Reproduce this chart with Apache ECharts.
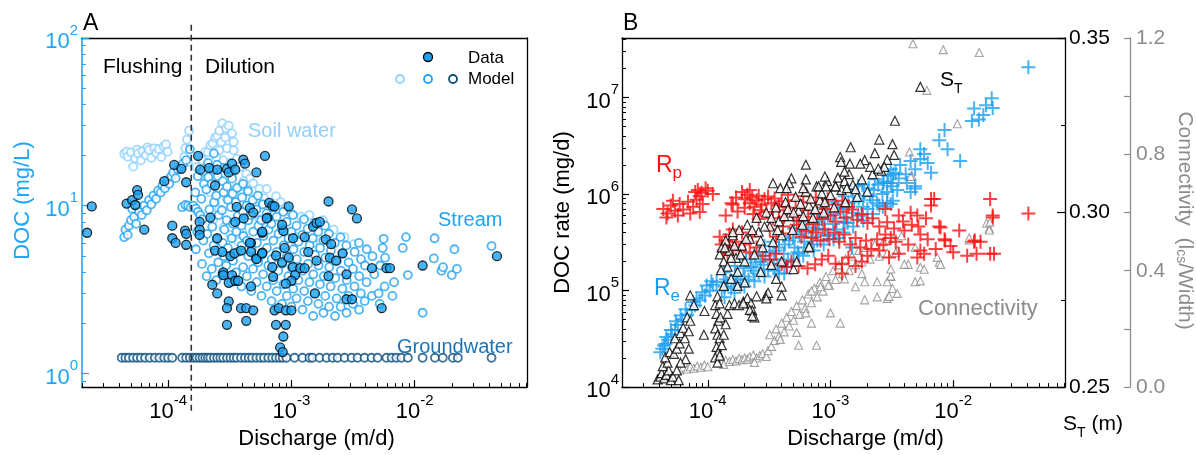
<!DOCTYPE html>
<html><head><meta charset="utf-8">
<script src="https://cdn.jsdelivr.net/npm/echarts@6/dist/echarts.min.js"></script>
<style>html,body{margin:0;padding:0;background:#fff}#c{width:1196px;height:455px}</style>
</head><body><div id="c"></div>
<script>
const FONT = 'Liberation Sans, Arial, sans-serif';

// ---------------- Panel A: DOC concentration vs discharge ----------------
const soilWaterModel = [
[4.4e-5,20.4],[4.6e-5,21.0],[4.7e-5,19.6],[5.0e-5,20.8],[5.2e-5,17.1],[5.4e-5,19.2],[5.6e-5,21.6],[5.7e-5,20.5],[6.0e-5,18.6],[6.2e-5,21.2],[6.6e-5,20.0],[6.8e-5,22.3],[7.0e-5,21.5],[7.3e-5,19.3],[7.7e-5,22.0],[8.0e-5,20.6],[8.4e-5,21.8],[8.8e-5,19.5],[9.2e-5,22.6],[9.6e-5,23.2],[9.9e-5,21.0],
[1.35e-4,19.5],[1.38e-4,22.0],[1.42e-4,24.8],[1.45e-4,18.2],[1.48e-4,28.0],
[1.7e-4,17.0],[1.8e-4,19.5],[1.9e-4,18.7],[2.0e-4,21.0],[2.1e-4,20.8],[2.2e-4,23.0],[2.3e-4,23.5],[2.4e-4,25.5],[2.5e-4,26.0],[2.6e-4,28.0],[2.75e-4,31.0],[2.95e-4,29.0],[3.1e-4,30.0],[3.3e-4,27.0],[3.4e-4,24.0],[2.6e-4,21.4],[2.8e-4,18.7],[3.0e-4,22.0],[3.4e-4,21.4],[3.6e-4,19.0],[3.3e-4,15.5],[3.8e-4,17.0],[4.3e-4,15.5],[4.6e-4,14.5],[4.9e-4,13.6],[5.5e-4,12.6],[6.3e-4,12.6],[6.0e-4,11.1],[7.5e-4,11.4],[8.2e-4,10.5],[9.0e-4,9.8],
[2.0e-4,14.0],[2.2e-4,12.0],[2.4e-4,10.5],[2.3e-4,8.2],[2.8e-4,7.4],[3.2e-4,6.7],[3.7e-4,6.1],[3.3e-4,8.0],[4.0e-4,7.0],[2.6e-4,9.5],[3.0e-4,11.0],[3.5e-4,12.5],[4.0e-4,11.8],[4.5e-4,10.0],[5.0e-4,9.0],[5.5e-4,8.2],[6.2e-4,7.4],
[2.15e-4,16.0],[2.45e-4,19.5],[2.7e-4,24.0],[2.9e-4,25.5],[3.2e-4,18.0],[3.5e-4,16.5],[4.1e-4,14.0],[4.4e-4,12.5],[5.2e-4,11.0],[5.8e-4,10.2],[6.7e-4,9.6],[7.2e-4,8.8],
[1.0e-3,9.0],[1.2e-3,8.6],[1.4e-3,8.8],[1.6e-3,7.8],[1.8e-3,8.2],[2.2e-3,7.2],[2.7e-3,6.5],[3.2e-3,5.9],[1.1e-3,6.5],[1.5e-3,6.0]
];
const streamModel = [
[4.4e-5,6.5],[4.5e-5,7.2],[4.7e-5,6.7],[4.8e-5,7.6],[5.0e-5,8.2],[5.1e-5,9.6],[5.3e-5,8.6],[5.5e-5,7.8],[5.6e-5,10.0],[5.8e-5,9.2],[6.1e-5,8.8],[6.4e-5,10.0],[6.7e-5,9.4],[7.0e-5,10.8],[7.3e-5,10.2],[7.6e-5,11.5],[8.0e-5,11.0],[8.3e-5,12.3],[8.7e-5,12.0],[9.0e-5,13.2],[9.4e-5,12.7],[9.8e-5,14.2],[1.02e-4,13.5],[1.06e-4,15.0],[1.1e-4,15.8],[1.15e-4,14.6],[1.2e-4,16.5],[1.26e-4,17.0],[1.32e-4,17.8],[1.4e-4,18.7],[1.5e-4,21.7],
[1.3e-4,9.8],[1.38e-4,10.1],[1.45e-4,10.0],[1.52e-4,9.8],[1.6e-4,10.0],[1.68e-4,9.6],[1.75e-4,9.2],[1.82e-4,8.8],[1.9e-4,8.3],
[1.68e-4,5.5],[1.72e-4,7.0],[1.66e-4,12.0],[1.74e-4,15.0],
[1.88e-4,4.5],[1.93e-4,6.2],[1.86e-4,11.0],[1.95e-4,13.5],[1.9e-4,16.0],
[2.05e-4,3.8],[2.14e-4,5.2],[2.08e-4,6.8],[2.16e-4,9.5],[2.04e-4,12.5],[2.12e-4,14.8],[2.1e-4,18.0],
[2.26e-4,4.2],[2.34e-4,5.8],[2.28e-4,7.5],[2.36e-4,10.5],[2.25e-4,13.5],[2.32e-4,16.5],[2.35e-4,20.5],
[2.46e-4,3.6],[2.55e-4,4.6],[2.48e-4,6.3],[2.57e-4,8.8],[2.45e-4,11.5],[2.53e-4,15.0],[2.5e-4,17.5],
[2.74e-4,3.9],[2.84e-4,5.0],[2.77e-4,6.0],[2.86e-4,7.2],[2.73e-4,9.4],[2.82e-4,12.0],[2.78e-4,14.0],[2.85e-4,16.8],
[2.96e-4,4.4],[3.05e-4,5.6],[2.98e-4,8.2],[3.06e-4,10.8],[3.0e-4,13.0],
[3.25e-4,3.5],[3.36e-4,4.7],[3.28e-4,6.4],[3.37e-4,7.8],[3.24e-4,9.8],[3.34e-4,11.8],[3.3e-4,14.5],
[3.55e-4,4.0],[3.66e-4,5.3],[3.58e-4,7.0],[3.67e-4,8.7],[3.54e-4,10.5],[3.63e-4,12.8],
[3.93e-4,3.3],[4.06e-4,4.3],[3.96e-4,5.8],[4.08e-4,6.6],[3.94e-4,7.6],[4.04e-4,9.2],[3.98e-4,11.2],[4.05e-4,13.5],
[4.34e-4,3.8],[4.47e-4,5.0],[4.36e-4,6.2],[4.48e-4,8.2],[4.33e-4,10.0],[4.45e-4,12.2],
[4.73e-4,3.1],[4.88e-4,4.2],[4.76e-4,5.5],[4.9e-4,7.0],[4.72e-4,8.8],[4.85e-4,10.8],
[5.22e-4,3.5],[5.38e-4,4.6],[5.25e-4,6.0],[5.4e-4,7.6],[5.2e-4,9.5],[5.35e-4,11.5],
[5.72e-4,2.9],[5.9e-4,3.9],[5.75e-4,5.1],[5.92e-4,6.6],[5.7e-4,8.2],[5.86e-4,10.2],
[6.3e-4,3.3],[6.5e-4,4.4],[6.33e-4,5.6],[6.52e-4,7.2],[6.28e-4,9.0],
[6.9e-4,2.7],[7.12e-4,3.6],[6.93e-4,4.8],[7.14e-4,6.2],[6.88e-4,7.8],[7.08e-4,9.8],
[7.6e-4,3.1],[7.82e-4,4.1],[7.63e-4,5.3],[7.85e-4,6.8],[7.58e-4,8.6],
[8.38e-4,2.6],[8.62e-4,3.4],[8.4e-4,4.5],[8.65e-4,5.8],[8.35e-4,7.3],[8.6e-4,9.2],
[9.17e-4,2.9],[9.45e-4,3.8],[9.2e-4,5.0],[9.46e-4,6.4],[9.15e-4,8.0],
[1.0e-3,2.5],[1.035e-3,3.2],[1.005e-3,4.3],[1.04e-3,5.5],[1.0e-3,7.0],[1.03e-3,8.8],
[1.1e-3,2.8],[1.14e-3,3.6],[1.105e-3,4.8],[1.14e-3,6.1],[1.1e-3,7.6],
[1.23e-3,2.4],[1.27e-3,3.1],[1.235e-3,4.1],[1.27e-3,5.3],[1.225e-3,6.7],[1.265e-3,8.3],
[1.36e-3,2.7],[1.4e-3,3.5],[1.365e-3,4.5],[1.405e-3,5.8],[1.355e-3,7.3],
[1.5e-3,2.2],[1.545e-3,3.0],[1.505e-3,3.9],[1.55e-3,5.1],[1.49e-3,6.4],[1.54e-3,7.9],
[1.655e-3,2.6],[1.705e-3,3.4],[1.66e-3,4.4],[1.71e-3,5.6],[1.65e-3,7.0],
[1.82e-3,2.3],[1.88e-3,2.9],[1.83e-3,3.8],[1.885e-3,4.9],[1.815e-3,6.2],[1.875e-3,7.6],
[2.02e-3,2.5],[2.08e-3,3.3],[2.025e-3,4.3],[2.09e-3,5.4],[2.015e-3,6.8],
[2.26e-3,2.2],[2.33e-3,2.8],[2.27e-3,3.7],[2.34e-3,4.7],[2.25e-3,6.0],
[2.51e-3,2.5],[2.59e-3,3.2],[2.52e-3,4.1],[2.6e-3,5.2],[2.5e-3,6.5],
[2.8e-3,2.3],[2.9e-3,2.9],[2.81e-3,3.6],[2.91e-3,4.6],[2.79e-3,5.8],
[3.15e-3,2.6],[3.25e-3,3.3],[3.16e-3,4.2],[3.26e-3,5.3],
[3.54e-3,2.4],[3.66e-3,3.0],[3.55e-3,3.8],[3.67e-3,4.8],[3.53e-3,6.0],
[3.93e-3,2.7],[4.07e-3,3.5],[3.95e-3,4.4],[4.08e-3,5.5],
[4.5e-3,2.9],[4.7e-3,3.9],[4.55e-3,5.0],
[5.2e-3,2.6],[5.1e-3,3.0],[5.25e-3,4.4],[5.5e-3,5.6],
[5.7e-3,3.3],[5.75e-3,4.9],[5.6e-3,6.35],
[6.6e-3,2.9],[6.8e-3,3.5],[8.0e-3,5.6],[8.5e-3,6.5],[8.8e-3,3.86],[1.16e-2,2.3],[1.43e-2,4.85],[1.45e-2,6.4],[1.65e-2,4.1],[1.7e-2,4.3],[2.0e-2,3.86],[2.1e-2,5.5],[2.2e-2,4.2],[4.2e-2,5.75]
];
const groundwaterLevel = 1.24;
const groundwaterX = [
4.2e-5,4.5e-5,4.8e-5,5.2e-5,5.6e-5,6.0e-5,6.5e-5,7.1e-5,7.8e-5,8.5e-5,9.3e-5,1.0e-4,1.08e-4,
1.3e-4,1.4e-4,1.5e-4,1.6e-4,1.7e-4,1.8e-4,1.9e-4,2.0e-4,2.1e-4,2.2e-4,2.35e-4,2.5e-4,2.65e-4,2.8e-4,3.0e-4,3.2e-4,3.4e-4,3.6e-4,3.9e-4,4.2e-4,4.5e-4,4.8e-4,5.2e-4,5.6e-4,6.0e-4,6.5e-4,7.0e-4,7.5e-4,8.0e-4,8.5e-4,
9.1e-4,1.06e-3,1.23e-3,1.4e-3,1.48e-3,1.69e-3,1.93e-3,2.16e-3,2.37e-3,2.7e-3,3.08e-3,3.44e-3,3.92e-3,4.47e-3,5.0e-3,5.9e-3,6.5e-3,7.1e-3,7.8e-3,8.8e-3,1.16e-2,1.46e-2,1.69e-2,2.04e-2,2.24e-2,4.2e-2
];
const observedData = [
[2.4e-5,9.9],[2.2e-5,6.9],[4.6e-5,10.3],[5.1e-5,10.8],[5.6e-5,12.4],[5.7e-5,11.6],[5.4e-5,10.1],[6.4e-5,7.2],[9.3e-5,14.0],[1.12e-4,17.5],[1.28e-4,16.6],[1.4e-4,13.8],[1.08e-4,7.6],[1.08e-4,6.4],[1.15e-4,6.0],[1.37e-4,7.1],[1.4e-4,6.8],[1.4e-4,5.85],
[1.75e-4,19.8],[1.82e-4,16.4],[2.15e-4,16.8],[2.5e-4,16.4],[3.0e-4,16.6],[3.3e-4,17.8],[3.1e-4,15.8],[3.5e-4,16.4],[4.07e-4,18.8],[4.2e-4,17.8],[5.2e-4,15.8],[6.1e-4,19.8],[2.4e-4,13.2],
[1.8e-4,8.0],[1.8e-4,7.2],[1.8e-4,6.7],[2.2e-4,8.5],[2.5e-4,6.4],[2.4e-4,5.4],[2.75e-4,5.3],[3.2e-4,5.0],[3.45e-4,5.2],[3.9e-4,5.4],[3.6e-4,9.85],[4.1e-4,8.4],[3.5e-4,8.0],[4.6e-4,9.7],[4.9e-4,9.1],[4.7e-4,6.0],[4.7e-4,5.3],[5.2e-4,4.85],[5.8e-4,6.9],[5.8e-4,5.25],[6.6e-4,10.4],[7.0e-4,10.0],[6.4e-4,8.5],[7.0e-4,4.3],[2.8e-4,4.0],
[2.28e-4,3.38],[2.5e-4,3.0],[2.8e-4,3.86],[3.3e-4,3.86],[3.1e-4,3.47],[3.5e-4,3.57],[3.7e-4,3.57],[3.1e-4,2.69],[3.0e-4,2.45],[3.0e-4,1.95],[3.9e-4,2.45],[4.3e-4,2.45],[4.9e-4,2.38],[4.3e-4,2.06],[4.7e-4,3.3],[4.6e-4,6.0],[5.2e-4,4.8],[5.8e-4,5.2],[6.3e-4,8.4],[5.8e-4,7.0],
[7.3e-4,9.9],[7.5e-4,5.05],[8.4e-4,4.6],[7.1e-4,3.77],[7.3e-4,2.38],[7.9e-4,2.45],[9.0e-4,2.38],[1.0e-3,2.38],[7.5e-4,1.95],[9.0e-4,1.95],[8.6e-4,1.66],[8.1e-4,1.43],[8.5e-4,1.34],[8.6e-4,7.07],[8.4e-4,7.7],[8.8e-4,5.6],[9.5e-4,9.9],[9.5e-4,4.9],
[1.03e-3,6.4],[1.03e-3,4.3],[1.07e-3,3.86],[1.0e-3,3.57],[1.18e-3,4.24],[1.28e-3,4.24],[1.28e-3,6.5],[1.37e-3,5.3],[1.55e-3,3.0],[1.6e-3,4.7],[1.5e-3,7.5],[1.6e-3,7.9],[1.7e-3,8.0],[2.0e-3,10.6],[1.9e-3,6.3],[2.1e-3,5.9],[2.05e-3,4.9],[2.3e-3,4.7],[2.6e-3,5.2],[2.0e-3,3.8],[2.8e-3,3.9],[2.8e-3,2.77],[3.1e-3,2.77],[3.1e-3,9.5],[3.4e-3,8.4],[4.5e-3,4.24],[5.9e-3,4.24],[6.3e-3,4.24],[1.16e-2,4.4],[4.65e-2,5.0],[5.4e-3,2.45],[9.0e-4,3.43]
];
const flushDilutionBoundary = 1.54e-4;
const boundaryLineExtent = [0.6, 124];

// ---------------- Panel B: DOC rates, storage and connectivity ----------------
const rateRe = [
[4.1e-5,2.3e4],[4.26e-5,2.5e4],[4.4e-5,2.7e4],[4.5e-5,2.8e4],[4.6e-5,3.3e4],[4.75e-5,3.1e4],[5.1e-5,3.5e4],[5.0e-5,3.9e4],[5.4e-5,3.9e4],[5.7e-5,4.4e4],[5.5e-5,4.8e4],[6.2e-5,5.0e4],[6.0e-5,5.5e4],[6.8e-5,5.6e4],[6.6e-5,6.4e4],[7.4e-5,6.3e4],[7.9e-5,7.0e4],[7.6e-5,7.6e4],[8.6e-5,7.9e4],[8.1e-5,8.3e4],[9.5e-5,8.9e4],[9.0e-5,9.6e4],[1.04e-4,1.0e5],[9.8e-5,1.13e5],[1.1e-4,1.15e5],[1.18e-4,1.23e5],[1.07e-4,1.25e5],
[1.37e-4,8.5e4],[1.37e-4,1.1e5],[1.4e-4,1.3e5],[1.35e-4,1.55e5],[1.65e-4,9.5e4],[1.62e-4,1.2e5],[1.7e-4,1.45e5],[1.66e-4,1.8e5],[1.99e-4,1.1e5],[2.0e-4,1.4e5],[1.95e-4,1.7e5],[2.05e-4,2.1e5],[2.4e-4,1.25e5],[2.35e-4,1.6e5],[2.45e-4,1.95e5],[2.4e-4,2.4e5],[2.9e-4,1.4e5],[2.85e-4,1.85e5],[2.95e-4,2.3e5],[2.9e-4,2.9e5],[3.5e-4,1.6e5],[3.45e-4,2.1e5],[3.55e-4,2.6e5],[3.4e-4,3.2e5],[4.2e-4,1.5e5],[4.15e-4,2.4e5],[4.25e-4,3.0e5],[4.1e-4,3.7e5],[5.0e-4,2.0e5],[5.1e-4,2.8e5],[4.95e-4,3.5e5],[5.05e-4,4.4e5],[6.0e-4,2.3e5],[6.1e-4,3.2e5],[6.05e-4,4.1e5],[5.9e-4,5.2e5],[7.3e-4,2.6e5],[7.2e-4,3.6e5],[7.4e-4,4.8e5],[7.3e-4,6.2e5],[8.8e-4,3.0e5],[8.7e-4,4.3e5],[8.9e-4,5.5e5],[8.6e-4,7.2e5],[1.06e-3,3.4e5],[1.05e-3,4.9e5],[1.07e-3,6.3e5],[1.04e-3,8.3e5],[1.27e-3,4.0e5],[1.28e-3,5.6e5],[1.26e-3,7.2e5],[1.3e-3,9.5e5],[1.53e-3,4.6e5],[1.52e-3,6.4e5],[1.55e-3,8.3e5],[1.5e-3,1.08e6],[1.85e-3,5.3e5],[1.84e-3,7.4e5],[1.87e-3,9.6e5],[1.82e-3,1.25e6],[2.22e-3,6.2e5],[2.2e-3,8.6e5],[2.25e-3,1.1e6],[2.3e-3,1.42e6],[2.67e-3,7.4e5],[2.65e-3,1.0e6],[2.7e-3,1.3e6],[3.22e-3,8.5e5],[3.2e-3,1.2e6],[3.25e-3,1.6e6],
[1.3e-4,1.0e5],[1.45e-4,1.2e5],[1.55e-4,1.05e5],[1.75e-4,1.3e5],[1.85e-4,1.15e5],[2.15e-4,1.3e5],[2.25e-4,1.75e5],[2.6e-4,1.5e5],[2.7e-4,2.0e5],[3.1e-4,1.65e5],[3.2e-4,2.5e5],[3.7e-4,1.85e5],[3.8e-4,2.8e5],[4.5e-4,2.1e5],[4.6e-4,3.3e5],[5.4e-4,2.5e5],[5.6e-4,3.8e5],[6.5e-4,2.8e5],[6.6e-4,4.5e5],[7.8e-4,3.3e5],[8.0e-4,5.2e5],[9.4e-4,3.7e5],[9.5e-4,6.0e5],[1.12e-3,4.3e5],[1.15e-3,7.0e5],[1.38e-3,5.0e5],[1.4e-3,8.0e5],[1.68e-3,6.0e5],[1.7e-3,9.0e5],[2.0e-3,7.0e5],[2.05e-3,1.15e6],[2.4e-3,8.0e5],[2.45e-3,1.25e6],[2.9e-3,1.05e6],[2.95e-3,1.55e6],[3.5e-3,1.1e6],[3.6e-3,1.45e6],[4.1e-3,1.6e6],[4.2e-3,1.3e6],
[1.68e-3,1.2e6],[3.4e-3,1.64e6],[2.9e-3,8.1e5],[2.5e-3,7.6e5],[1.8e-3,6.0e5],[1.3e-3,5.1e5],[9.6e-4,3.8e5],[7.0e-4,3.0e5],[7.9e-4,4.4e5],[1.17e-3,3.5e5],[1.5e-3,2.8e5],[4.9e-3,1.2e6],[4.5e-3,2.2e6],[5.8e-3,2.6e6],[3.7e-3,2.0e6],[2.9e-3,1.3e6],[2.1e-3,9.5e5],[5.5e-4,2.4e5],[4.4e-4,1.75e5],[3.8e-4,1.5e5],
[4.1e-2,2.05e7],[2.06e-2,9.8e6],[2.1e-2,7.8e6],[1.48e-2,7.7e6],[1.62e-2,5.9e6],[1.42e-2,5.7e6],[8.5e-3,4.6e6],[7.7e-3,3.6e6],[9.0e-3,2.9e6],[1.14e-2,2.2e6],[5.4e-3,2.9e6],[5.4e-3,2.3e6],[6.2e-3,2.1e6],[6.6e-3,1.66e6],[4.9e-3,1.8e6],[4.9e-3,1.14e6],[4.5e-3,1.05e6],[3.1e-3,1.8e6],[3.1e-3,1.3e6],[2.7e-3,1.35e6],[3.1e-3,7.9e5],[1.85e-2,8.3e6],[1.76e-2,6.6e6]
];
const rateRp = [
[4.34e-5,7.0e5],[4.7e-5,6.3e5],[5.0e-5,7.6e5],[5.4e-5,6.7e5],[5.7e-5,6.0e5],[5.9e-5,7.9e5],[6.3e-5,6.9e5],[6.9e-5,8.3e5],[7.2e-5,6.3e5],[7.6e-5,7.4e5],[8.1e-5,8.7e5],[8.6e-5,6.5e5],[9.1e-5,7.9e5],[4.6e-5,5.7e5],[5.2e-5,8.5e5],[7.9e-5,1.05e6],[8.3e-5,1.1e6],[8.9e-5,1.03e6],[9.6e-5,1.15e6],[1.0e-4,1.08e6],[1.1e-4,1.0e6],[8.6e-5,9.5e5],[1.4e-4,6.0e5],[1.56e-4,8.0e5],
[1.9e-4,1.05e6],[2.0e-4,8.8e5],[2.1e-4,9.8e5],[2.2e-4,8.0e5],[2.3e-4,9.2e5],[2.4e-4,7.4e5],[2.5e-4,8.6e5],[2.6e-4,9.6e5],[2.2e-4,1.1e6],[2.75e-4,7.8e5],[2.0e-4,7.2e5],[2.9e-4,8.8e5],[3.1e-4,9.4e5],[3.3e-4,8.0e5],[3.5e-4,9.0e5],[3.8e-4,7.6e5],[4.0e-4,8.4e5],
[1.25e-4,3.6e5],[1.3e-4,3.0e5],[1.35e-4,2.6e5],[1.4e-4,3.3e5],[1.45e-4,2.4e5],[1.5e-4,2.9e5],[1.6e-4,2.7e5],[1.7e-4,3.2e5],[1.8e-4,2.6e5],[2.0e-4,3.0e5],[2.2e-4,2.5e5],[2.5e-4,2.8e5],[2.8e-4,2.3e5],[3.2e-4,2.1e5],[3.6e-4,2.4e5],[4.0e-4,1.9e5],[4.4e-4,1.75e5],[4.8e-4,2.0e5],[5.5e-4,1.8e5],[6.5e-4,1.7e5],[7.5e-4,1.87e5],[8.5e-4,2.1e5],[9.6e-4,2.3e5],[1.1e-3,1.9e5],[1.24e-3,1.87e5],[1.24e-3,1.5e5],[1.4e-3,2.2e5],[1.6e-3,1.8e5],[1.8e-3,2.0e5],[2.0e-3,2.3e5],[2.5e-3,2.6e5],[3.6e-3,2.4e5],[2.8e-3,3.8e5],[3.4e-3,3.2e5],
[3.0e-4,6.5e5],[3.4e-4,5.6e5],[3.8e-4,6.8e5],[4.2e-4,5.8e5],[4.6e-4,7.2e5],[5.0e-4,6.2e5],[5.5e-4,5.3e5],[6.0e-4,6.8e5],[6.6e-4,5.8e5],[7.2e-4,4.9e5],[7.8e-4,6.4e5],[8.5e-4,5.5e5],[9.2e-4,7.0e5],[1.0e-3,6.0e5],[1.1e-3,5.2e5],[1.2e-3,6.6e5],[1.35e-3,5.7e5],[1.5e-3,6.9e5],[1.65e-3,5.4e5],[1.8e-3,6.2e5],[2.0e-3,5.0e5],[2.2e-3,5.6e5],[2.5e-3,4.6e5],[2.9e-3,5.1e5],[3.6e-3,6.0e5],[4.5e-3,6.4e5],[5.1e-3,6.0e5],[7.0e-3,8.9e5],[6.6e-3,7.6e5],[7.9e-3,4.5e5],[1.12e-2,4.2e5],[8.5e-3,3.4e5],[1.48e-2,3.2e5],[1.67e-2,3.2e5],[1.55e-2,2.4e5],[2.0e-2,2.4e5],[2.0e-2,8.9e5],[2.1e-2,6.0e5],[4.1e-2,6.3e5],[5.4e-3,3.8e5],[5.8e-3,2.4e5],[5.4e-3,2.6e5],[7.7e-3,4.6e5],[8.6e-3,3.3e5],[1.5e-2,3.3e5],[2.15e-2,2.4e5],[2.1e-2,5.7e5],[5.1e-3,2.2e5],[6.6e-3,8.9e5],[3.1e-3,3.5e5],[4.0e-3,4.2e5],[4.3e-3,3.0e5],[3.0e-3,2.2e5],
[3.2e-4,4.3e5],[3.6e-4,3.6e5],[4.1e-4,4.6e5],[4.7e-4,3.9e5],[5.3e-4,4.8e5],[5.8e-4,3.6e5],[6.3e-4,4.2e5],[7.0e-4,3.5e5],[7.6e-4,4.0e5],[8.3e-4,3.3e5],[9.0e-4,4.3e5],[9.8e-4,3.4e5],[1.08e-3,4.0e5],[1.18e-3,3.2e5],[1.3e-3,3.8e5],[1.45e-3,3.0e5],[1.6e-3,3.5e5],[1.75e-3,2.8e5],[1.95e-3,3.3e5],[2.15e-3,2.7e5],[2.4e-3,3.4e5],[2.7e-3,3.0e5],[3.3e-3,4.4e5],[3.9e-3,5.2e5],[4.6e-3,4.8e5],[5.2e-3,4.6e5],[6.0e-3,5.6e5],[6.2e-3,3.4e5],[7.2e-3,2.7e5],[9.5e-3,2.9e5],[1.0e-2,2.5e5],[1.3e-2,2.3e5],[2.35e-4,6.2e5],[2.6e-4,5.5e5],[2.7e-4,6.8e5],[1.6e-4,7.8e5],[1.7e-4,9.2e5],[1.75e-4,6.6e5],[1.5e-4,3.8e5],[1.6e-4,4.3e5],[1.9e-4,4.0e5],[2.3e-4,3.6e5],
[4.5e-4,9.8e5],[5.2e-4,8.6e5],[6.0e-4,9.5e5],[6.8e-4,8.2e5],[7.6e-4,9.2e5],[8.5e-4,8.0e5],[9.5e-4,8.8e5],[1.1e-3,7.8e5],[1.25e-3,8.5e5],[1.4e-3,7.4e5],[2.8e-3,7.0e5]
];
const storageST = [
[3.9e-5,0.2522],[4.1e-5,0.2530],[4.2e-5,0.2540],[4.4e-5,0.2525],[4.6e-5,0.2535],[4.8e-5,0.2548],[5.0e-5,0.2520],[5.2e-5,0.2530],[4.3e-5,0.2560],[4.7e-5,0.2570],[4.5e-5,0.2585],[4.9e-5,0.2600],[5.3e-5,0.2595],[5.6e-5,0.2610],[5.9e-5,0.2625],[5.4e-5,0.2640],[6.0e-5,0.2655],[6.3e-5,0.2670],[6.5e-5,0.2640],[6.8e-5,0.2700],[7.2e-5,0.2690],[7.0e-5,0.2660],[7.7e-5,0.2735],[7.2e-5,0.2763],[6.6e-5,0.2580],[7.0e-5,0.2610],[6.0e-5,0.2570],[5.6e-5,0.2548],[9.3e-5,0.2650],[5.8e-5,0.2520],[9.4e-5,0.2718],
[1.15e-4,0.2735],[1.2e-4,0.2760],[1.25e-4,0.2740],[1.18e-4,0.2710],[1.22e-4,0.2690],[1.27e-4,0.2700],[1.15e-4,0.2668],[1.2e-4,0.2650],[1.25e-4,0.2640],[1.18e-4,0.2615],[1.22e-4,0.2600],[1.15e-4,0.2585],[1.2e-4,0.2570],[1.25e-4,0.2590],[1.3e-4,0.2620],[1.35e-4,0.2650],[1.4e-4,0.2680],[1.45e-4,0.2710],[1.5e-4,0.2735],[1.65e-4,0.2740],[1.8e-4,0.2735],[1.95e-4,0.2745],[2.1e-4,0.2755],[2.25e-4,0.2740],[2.5e-4,0.2760],[2.3e-4,0.2720],[2.4e-4,0.2700],[3.0e-4,0.2763],[3.1e-4,0.2770],
[1.25e-4,0.2880],[1.3e-4,0.2900],[1.35e-4,0.2860],[1.4e-4,0.2920],[1.45e-4,0.2845],[1.5e-4,0.2890],[1.6e-4,0.2935],[1.7e-4,0.2870],[1.8e-4,0.2950],[1.9e-4,0.2905],[2.0e-4,0.2860],[2.1e-4,0.2965],[2.2e-4,0.2925],[2.4e-4,0.2880],[2.5e-4,0.2985],[2.6e-4,0.2945],[2.8e-4,0.2900],[3.0e-4,0.3000],[3.2e-4,0.2960],[3.4e-4,0.2915],[3.6e-4,0.3015],[3.8e-4,0.2975],[4.0e-4,0.2935],[4.3e-4,0.3030],[4.6e-4,0.2990],[4.9e-4,0.2950],[5.2e-4,0.3045],[5.5e-4,0.3005],[5.9e-4,0.2965],[6.3e-4,0.3060],[6.7e-4,0.3020],[7.2e-4,0.2985],[7.7e-4,0.3075],[8.2e-4,0.3035],[8.8e-4,0.3000],[9.4e-4,0.3090],[1.0e-3,0.3050],[1.07e-3,0.3015],[1.15e-3,0.3100],[1.23e-3,0.3065],[1.32e-3,0.3030],[1.42e-3,0.3110],[1.52e-3,0.3080],[1.65e-3,0.3045],[1.8e-3,0.3095],[2.0e-3,0.3060],
[1.28e-4,0.2835],[1.38e-4,0.2900],[1.55e-4,0.2870],[1.65e-4,0.2905],[1.75e-4,0.2830],[1.85e-4,0.2880],[2.05e-4,0.2925],[2.3e-4,0.2950],[2.7e-4,0.2920],[2.9e-4,0.2960],[3.3e-4,0.2985],[3.7e-4,0.2950],[4.2e-4,0.2990],[4.5e-4,0.3010],[5.0e-4,0.3000],[5.7e-4,0.3025],[6.0e-4,0.2990],[6.9e-4,0.3040],[7.5e-4,0.3010],[8.5e-4,0.3055],[9.0e-4,0.3030],[1.1e-3,0.3075],[1.3e-3,0.3090],[2.2e-3,0.3110],[2.6e-3,0.3120],[1.9e-3,0.3150],[2.3e-3,0.3170],[1.35e-4,0.2790],[1.55e-4,0.2810],[1.75e-4,0.2790],[2.0e-4,0.2800],[2.7e-4,0.2830],[3.3e-4,0.2850],[3.6e-4,0.2810],
[6.3e-4,0.3137],[9.0e-4,0.3103],[1.2e-3,0.3159],[1.22e-3,0.3145],[1.46e-3,0.3187],[1.75e-3,0.3140],[1.3e-3,0.3117],[2.5e-3,0.3209],[3.2e-3,0.3196],[3.35e-3,0.3263],[6.3e-4,0.3095],[4.8e-4,0.3098],[4.6e-4,0.3084],[3.4e-4,0.3084],[3.9e-4,0.3070],[5.4e-3,0.3360],[2.9e-3,0.3151],[2.75e-3,0.3131],[3.3e-3,0.3165],[1.44e-3,0.3140],[2.1e-3,0.3131],[2.45e-3,0.3126],[4.4e-4,0.3070],[6.0e-4,0.3070],[8.0e-4,0.3075],[9.2e-4,0.3075],[1.1e-3,0.3075],[1.36e-3,0.3070],[1.6e-3,0.3067],
[4.0e-4,0.2788],[5.0e-4,0.2838],[6.7e-4,0.2900],[1.95e-4,0.2740],[2.2e-4,0.2721],[2.3e-4,0.2704],[3.0e-4,0.2754],[4.0e-4,0.2763],[6.7e-4,0.2902],[4.0e-4,0.2860],[5.3e-4,0.2860],[1.6e-4,0.2944]
];
const connectivity = [
[5.9e-5,0.060],[6.3e-5,0.068],[6.8e-5,0.062],[7.2e-5,0.070],[7.7e-5,0.065],[8.2e-5,0.072],[8.8e-5,0.068],[9.4e-5,0.075],[1.0e-4,0.070],
[1.3e-4,0.085],[1.4e-4,0.092],[1.5e-4,0.088],[1.6e-4,0.095],[1.7e-4,0.090],[1.8e-4,0.098],[1.9e-4,0.094],[2.0e-4,0.100],[2.1e-4,0.096],[2.2e-4,0.104],[2.35e-4,0.110],[2.5e-4,0.100],[2.65e-4,0.108],[2.8e-4,0.115],[3.0e-4,0.105],[2.4e-4,0.085],[1.35e-4,0.078],
[3.1e-4,0.125],[3.3e-4,0.14],[3.5e-4,0.16],[3.2e-4,0.18],[3.6e-4,0.20],[3.8e-4,0.175],[4.0e-4,0.22],[4.2e-4,0.19],[4.4e-4,0.24],[4.6e-4,0.21],[4.8e-4,0.26],[5.0e-4,0.23],[5.3e-4,0.28],[5.6e-4,0.25],[5.9e-4,0.30],[6.2e-4,0.27],[6.6e-4,0.32],[7.0e-4,0.29],[7.4e-4,0.34],[7.8e-4,0.31],[8.2e-4,0.36],[8.7e-4,0.33],[9.2e-4,0.38],[9.8e-4,0.35],[1.05e-3,0.40],[1.1e-3,0.37],[1.17e-3,0.42],[1.25e-3,0.39],[1.33e-3,0.44],[1.42e-3,0.40],[1.5e-3,0.45],[1.6e-3,0.42],[1.7e-3,0.47],[1.8e-3,0.43],[1.95e-3,0.48],[2.1e-3,0.44],[2.3e-3,0.49],[2.5e-3,0.45],[2.7e-3,0.50],[2.9e-3,0.46],[3.2e-3,0.51],[3.5e-3,0.47],[3.8e-3,0.52],
[5.5e-4,0.144],[7.7e-4,0.144],[1.2e-3,0.22],[7.0e-4,0.22],[6.3e-4,0.255],[1.0e-3,0.255],[5.3e-4,0.188],[3.9e-4,0.164],[1.9e-3,0.30],[2.4e-3,0.31],[3.1e-3,0.38],[2.9e-3,0.305],
[2.9e-3,0.362],[3.1e-3,0.382],[3.2e-3,0.339],[3.5e-3,0.322],[3.0e-3,0.312],[4.9e-3,0.362],[4.3e-3,0.422],[5.4e-3,0.412],[7.7e-3,0.429],[1.97e-2,0.546],[1.35e-2,0.506],[3.1e-3,0.406],
[7.0e-4,0.33],[9.6e-4,0.35],[1.3e-3,0.372],[1.6e-3,0.345],[1.9e-3,0.362],[1.8e-3,0.39],[2.4e-3,0.362],[4.0e-3,0.422],[5.8e-3,0.405],[7.4e-3,0.446],[7.9e-3,0.422],[3.4e-3,0.462],[4.9e-3,0.48],[5.4e-3,0.365],[8.3e-4,0.345],
[4.7e-3,1.18],[8.3e-3,1.16],[1.63e-2,1.15],[6.1e-3,1.02],[1.08e-2,0.905],[4.4e-3,0.808],[4.6e-3,0.727],[1.87e-2,0.563],[4.5e-3,0.724],[1.35e-2,0.513],[1.97e-2,0.54],[1.99e-2,0.567]
];

// ---------------- Axis settings ----------------
const xRange = [2.0e-5, 0.0815];
const yRangeA = [0.829, 100];
const yRangeB = [1e4, 4.13e7];
const xMajorTicks = [1e-4, 1e-3, 1e-2];
const yMajorTicksA = [1, 10, 100];
const yMajorTicksB = [1e4, 1e5, 1e6, 1e7];
const stMajorTicks = [0.25, 0.30, 0.35];
const stMinorTicks = [0.275, 0.325];
const connLabelTicks = [0, 0.4, 0.8, 1.2];

function minorTicks(lo, hi) {
  const out = [];
  for (let e = -6; e <= 8; e++) for (let k = 2; k <= 9; k++) {
    const v = k * Math.pow(10, e);
    if (v >= lo && v <= hi) out.push(v);
  }
  return out;
}
const BLUE = '#1ea6fb';
const supRich = {
  b: {fontSize: 22, lineHeight: 30, verticalAlign: 'bottom', fontFamily: FONT},
  sup: {fontSize: 15, lineHeight: 15, verticalAlign: 'top', fontFamily: FONT}
};
function logFmt(v) { return '{b|10}{sup|' + Math.round(Math.log10(v)) + '}'; }

function xAxesFor(grid, name, padLeft) {
  return [
    {type: 'log', gridIndex: grid, min: xRange[0], max: xRange[1], position: 'bottom',
     axisLine: {lineStyle: {color: '#000', width: 1.3}},
     axisTick: {inside: true, length: 7, customValues: xMajorTicks, lineStyle: {color: '#000', width: 1.2}},
     axisLabel: {customValues: xMajorTicks, formatter: logFmt, rich: supRich, color: '#000', margin: 6},
     splitLine: {show: false},
     name: name, nameLocation: 'middle', nameGap: 36,
     nameTextStyle: {fontSize: 22, color: '#000', fontFamily: FONT, padding: [0, 0, 0, padLeft]}},
    {type: 'log', gridIndex: grid, min: xRange[0], max: xRange[1], position: 'bottom',
     axisLine: {show: false},
     axisTick: {inside: true, length: 4, customValues: minorTicks(xRange[0], xRange[1]), lineStyle: {color: '#000', width: 1}},
     axisLabel: {show: false}, splitLine: {show: false}},
    {type: 'log', gridIndex: grid, min: xRange[0], max: xRange[1], position: 'top',
     axisLine: {lineStyle: {color: '#000', width: 1.3}}, axisTick: {show: false},
     axisLabel: {show: false}, splitLine: {show: false}}
  ];
}

const option = {
  animation: false,
  backgroundColor: '#fff',
  textStyle: {fontFamily: FONT},
  grid: [
    {left: 82, top: 38, width: 445, height: 358},
    {left: 622, top: 38, width: 447, height: 358}
  ],
  xAxis: [].concat(xAxesFor(0, 'Discharge (m/d)', 24), xAxesFor(1, 'Discharge (m/d)', 44)),
  yAxis: [
    // Panel A
    {type: 'log', gridIndex: 0, min: yRangeA[0], max: yRangeA[1], position: 'left',
     axisLine: {lineStyle: {color: BLUE, width: 1.6}},
     axisTick: {inside: true, length: 7, customValues: yMajorTicksA, lineStyle: {color: BLUE, width: 1.2}},
     axisLabel: {customValues: yMajorTicksA, formatter: logFmt, rich: supRich, color: BLUE, margin: 4},
     splitLine: {show: false},
     name: 'DOC (mg/L)', nameLocation: 'middle', nameGap: 48,
     nameTextStyle: {fontSize: 22, color: BLUE, fontFamily: FONT, padding: [0, 0, 0, 24]}},
    {type: 'log', gridIndex: 0, min: yRangeA[0], max: yRangeA[1], position: 'left',
     axisLine: {show: false},
     axisTick: {inside: true, length: 4, customValues: minorTicks(yRangeA[0], yRangeA[1]), lineStyle: {color: BLUE, width: 1}},
     axisLabel: {show: false}, splitLine: {show: false}},
    {type: 'log', gridIndex: 0, min: yRangeA[0], max: yRangeA[1], position: 'right',
     axisLine: {lineStyle: {color: '#000', width: 1.3}}, axisTick: {show: false},
     axisLabel: {show: false}, splitLine: {show: false}},
    // Panel B
    {type: 'log', gridIndex: 1, min: yRangeB[0], max: yRangeB[1], position: 'left',
     axisLine: {lineStyle: {color: '#000', width: 1.3}},
     axisTick: {inside: true, length: 7, customValues: yMajorTicksB, lineStyle: {color: '#000', width: 1.2}},
     axisLabel: {customValues: yMajorTicksB, formatter: logFmt, rich: supRich, color: '#000', margin: 3},
     splitLine: {show: false},
     name: 'DOC rate (mg/d)', nameLocation: 'middle', nameGap: 48,
     nameTextStyle: {fontSize: 22, color: '#000', fontFamily: FONT}},
    {type: 'log', gridIndex: 1, min: yRangeB[0], max: yRangeB[1], position: 'left',
     axisLine: {show: false},
     axisTick: {inside: true, length: 4, customValues: minorTicks(yRangeB[0], yRangeB[1]), lineStyle: {color: '#000', width: 1}},
     axisLabel: {show: false}, splitLine: {show: false}},
    {type: 'value', gridIndex: 1, min: 0.25, max: 0.35, position: 'right',
     axisLine: {lineStyle: {color: '#000', width: 1.3}},
     axisTick: {inside: true, length: 8, customValues: stMajorTicks, lineStyle: {color: '#000', width: 1.2}},
     axisLabel: {customValues: stMajorTicks, formatter: v => v.toFixed(2), fontSize: 21, color: '#000', margin: 4, fontFamily: FONT},
     splitLine: {show: false}},
    {type: 'value', gridIndex: 1, min: 0.25, max: 0.35, position: 'right',
     axisLine: {show: false},
     axisTick: {inside: true, length: 4, customValues: stMinorTicks, lineStyle: {color: '#000', width: 1}},
     axisLabel: {show: false}, splitLine: {show: false}},
    {type: 'value', gridIndex: 1, min: 0, max: 1.2, interval: 0.2, position: 'right', offset: 65,
     axisLine: {show: true, lineStyle: {color: '#8c8c8c', width: 1.3}},
     axisTick: {show: true, inside: true, length: 6, lineStyle: {color: '#8c8c8c', width: 1.2}},
     axisLabel: {customValues: connLabelTicks, formatter: v => v.toFixed(1), fontSize: 21, color: '#8c8c8c', margin: 6, fontFamily: FONT},
     splitLine: {show: false},
     name: 'Connectivity  (l{s|cs}/Width)', nameLocation: 'middle', nameRotate: -90, nameGap: 44,
     nameTextStyle: {fontSize: 21, color: '#8c8c8c', fontFamily: FONT, padding: [0, 0, 0, 16],
       rich: {s: {fontSize: 14, color: '#8c8c8c', fontFamily: FONT, verticalAlign: 'bottom', lineHeight: 12}}}}
  ],
  series: [
    {type: 'scatter', name: 'Soil water', xAxisIndex: 0, yAxisIndex: 0, data: soilWaterModel, symbolSize: 8,
     itemStyle: {color: '#fff', borderColor: '#8fd1ff', borderWidth: 1.8}, z: 2, silent: true},
    {type: 'scatter', name: 'Stream', xAxisIndex: 0, yAxisIndex: 0, data: streamModel, symbolSize: 8,
     itemStyle: {color: '#fff', borderColor: '#1ea2f4', borderWidth: 1.8}, z: 3, silent: true},
    {type: 'scatter', name: 'Groundwater', xAxisIndex: 0, yAxisIndex: 0,
     data: groundwaterX.map(x => [x, groundwaterLevel]), symbolSize: 8,
     itemStyle: {color: '#fff', borderColor: '#0c4f7c', borderWidth: 1.8}, z: 3, silent: true},
    {type: 'scatter', name: 'Data', xAxisIndex: 0, yAxisIndex: 0, data: observedData, symbolSize: 9,
     itemStyle: {color: '#1ba1f0', borderColor: '#000', borderWidth: 1.3}, z: 4, silent: true},
    {type: 'line', name: 'boundary', xAxisIndex: 0, yAxisIndex: 0, clip: false, symbol: 'none', silent: true,
     data: boundaryLineExtent.map(y => [flushDilutionBoundary, y]),
     lineStyle: {color: '#333', width: 1.6, type: [6, 4]}, z: 5},
    // Panel B
    {type: 'scatter', name: 'Connectivity', xAxisIndex: 3, yAxisIndex: 7, data: connectivity, symbol: 'triangle', symbolSize: 8,
     itemStyle: {color: '#fff', borderColor: '#8c8c8c', borderWidth: 1.1}, z: 2, silent: true},
    {type: 'scatter', name: 'Re', xAxisIndex: 3, yAxisIndex: 3, data: rateRe, symbol: 'path://M0,6L12,6M6,0L6,12', symbolSize: 14,
     itemStyle: {color: 'rgba(0,0,0,0)', borderColor: '#1a9ff0', borderWidth: 2}, z: 3, silent: true},
    {type: 'scatter', name: 'Rp', xAxisIndex: 3, yAxisIndex: 3, data: rateRp, symbol: 'path://M0,6L12,6M6,0L6,12', symbolSize: 14,
     itemStyle: {color: 'rgba(0,0,0,0)', borderColor: '#ff1010', borderWidth: 2}, z: 4, silent: true},
    {type: 'scatter', name: 'ST', xAxisIndex: 3, yAxisIndex: 5, data: storageST, symbol: 'triangle', symbolSize: 9,
     itemStyle: {color: '#fff', borderColor: '#000', borderWidth: 1.2}, z: 5, silent: true}
  ],
  graphic: [
    {type: 'text', style: {text: 'A', x: 83, y: 24, fill: '#000', fontSize: 23, fontFamily: FONT, verticalAlign: 'middle'}},
    {type: 'text', style: {text: 'B', x: 623, y: 24, fill: '#000', fontSize: 23, fontFamily: FONT, verticalAlign: 'middle'}},
    {type: 'text', style: {text: 'Flushing', x: 103, y: 67, fill: '#000', fontSize: 21, fontFamily: FONT, verticalAlign: 'middle'}},
    {type: 'text', style: {text: 'Dilution', x: 205, y: 67, fill: '#000', fontSize: 21, fontFamily: FONT, verticalAlign: 'middle'}},
    {type: 'text', style: {text: 'Soil water', x: 248, y: 131, fill: '#8fd1ff', fontSize: 20, fontFamily: FONT, verticalAlign: 'middle'}},
    {type: 'text', style: {text: 'Stream', x: 438, y: 220, fill: '#1ea2f4', fontSize: 20, fontFamily: FONT, verticalAlign: 'middle'}},
    {type: 'text', style: {text: 'Groundwater', x: 397, y: 347, fill: '#1b75b4', fontSize: 20, fontFamily: FONT, verticalAlign: 'middle'}},
    {type: 'circle', shape: {cx: 428, cy: 57, r: 4.5}, style: {fill: '#1ba1f0', stroke: '#000', lineWidth: 1.3}},
    {type: 'circle', shape: {cx: 400, cy: 79, r: 4}, style: {fill: '#fff', stroke: '#8fd1ff', lineWidth: 1.8}},
    {type: 'circle', shape: {cx: 428, cy: 79, r: 4}, style: {fill: '#fff', stroke: '#1ea2f4', lineWidth: 1.8}},
    {type: 'circle', shape: {cx: 453, cy: 79, r: 4}, style: {fill: '#fff', stroke: '#0c4f7c', lineWidth: 1.8}},
    {type: 'text', style: {text: 'Data', x: 468, y: 58, fill: '#000', fontSize: 17, fontFamily: FONT, verticalAlign: 'middle'}},
    {type: 'text', style: {text: 'Model', x: 468, y: 79, fill: '#000', fontSize: 17, fontFamily: FONT, verticalAlign: 'middle'}},
    {type: 'text', style: {text: '{b|S}{s|T}', x: 940, y: 83, verticalAlign: 'middle',
      rich: {b: {fontSize: 21, fill: '#000', fontFamily: FONT, lineHeight: 26, verticalAlign: 'top'},
             s: {fontSize: 14, fill: '#000', fontFamily: FONT, lineHeight: 14, verticalAlign: 'bottom'}}}},
    {type: 'text', style: {text: '{b|R}{s|p}', x: 656, y: 168, verticalAlign: 'middle',
      rich: {b: {fontSize: 23, fill: '#ff1010', fontFamily: FONT, lineHeight: 28, verticalAlign: 'top'},
             s: {fontSize: 17, fill: '#ff1010', fontFamily: FONT, lineHeight: 16, verticalAlign: 'bottom'}}}},
    {type: 'text', style: {text: '{b|R}{s|e}', x: 654, y: 291, verticalAlign: 'middle',
      rich: {b: {fontSize: 23, fill: '#1a9ff0', fontFamily: FONT, lineHeight: 28, verticalAlign: 'top'},
             s: {fontSize: 17, fill: '#1a9ff0', fontFamily: FONT, lineHeight: 16, verticalAlign: 'bottom'}}}},
    {type: 'text', style: {text: 'Connectivity', x: 918, y: 309, fill: '#8c8c8c', fontSize: 22, fontFamily: FONT, verticalAlign: 'middle'}},
    {type: 'text', style: {text: '{b|S}{s|T}{b| (m)}', x: 1063, y: 427, verticalAlign: 'middle',
      rich: {b: {fontSize: 21, fill: '#000', fontFamily: FONT, lineHeight: 26, verticalAlign: 'top'},
             s: {fontSize: 14, fill: '#000', fontFamily: FONT, lineHeight: 14, verticalAlign: 'bottom'}}}}
  ]
};
const chart = echarts.init(document.getElementById('c'), null, {renderer: 'canvas'});
chart.setOption(option);
</script>
</body></html>
